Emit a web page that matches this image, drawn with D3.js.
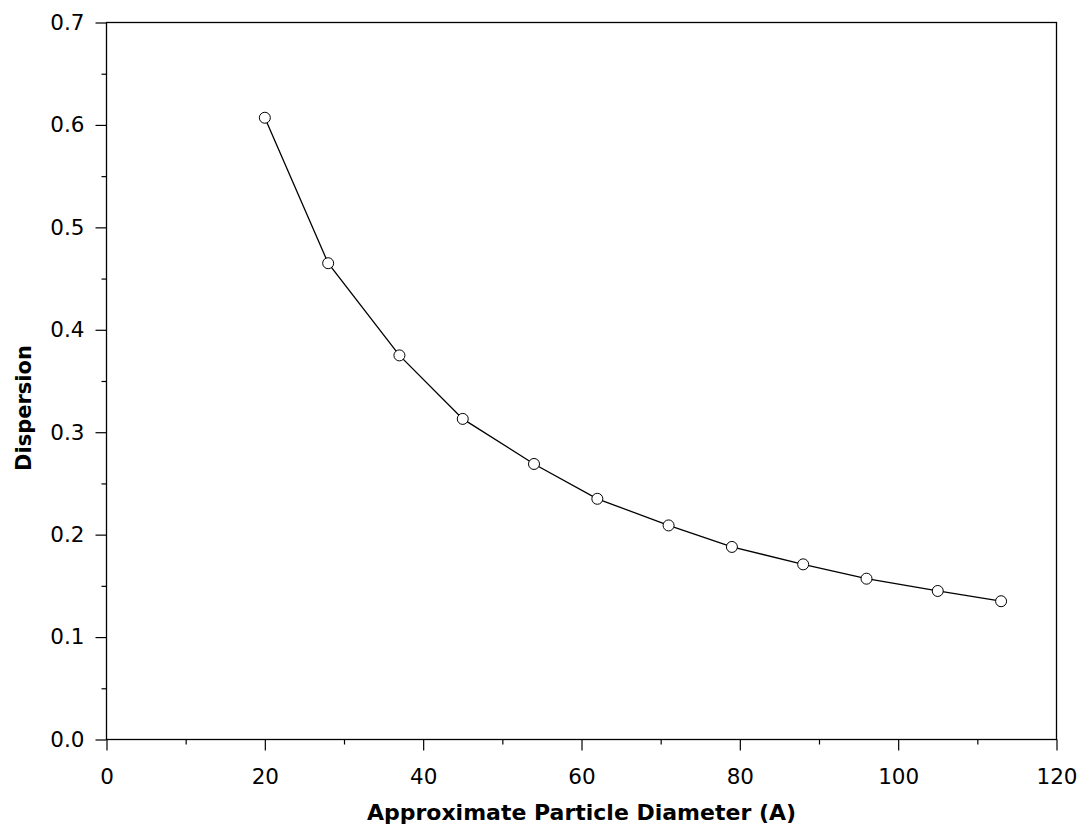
<!DOCTYPE html>
<html><head><meta charset="utf-8">
<script src="https://cdn.jsdelivr.net/npm/d3@7"></script>
<style>body{margin:0;background:#fff}svg{display:block}text{font-family:"DejaVu Sans",Verdana,sans-serif}</style>
</head><body><svg id="c" width="1080" height="827"></svg>
<script>
const diameters = [20, 28, 37, 45, 54, 62, 71, 79, 88, 96, 105, 113];
const dispersion = [0.607, 0.465, 0.375, 0.313, 0.269, 0.235, 0.209, 0.188, 0.171, 0.157, 0.145, 0.135];
const xTicks = [0, 20, 40, 60, 80, 100, 120];
const yTicks = [0, 0.1, 0.2, 0.3, 0.4, 0.5, 0.6, 0.7];
const xTitle = "Approximate Particle Diameter (A)";
const yTitle = "Dispersion";

const svg = d3.select("#c");
const L = 106.5, R = 1056.5, T = 22.5, B = 739.5;
const x = d3.scaleLinear().domain([0, 120]).range([L, R]);
const y = d3.scaleLinear().domain([0, 0.7]).range([B, T]);

// frame
svg.append("rect").attr("x", L).attr("y", T).attr("width", R - L).attr("height", B - T)
  .attr("fill", "none").attr("stroke", "#000").attr("stroke-width", 1.3);

// x axis
const xMinor = d3.range(10, 120, 20);
const gx = svg.append("g").attr("transform", `translate(0,${B})`)
  .call(d3.axisBottom(x).tickValues(xTicks).tickSize(11).tickPadding(18).tickFormat(d3.format("d")));
gx.select(".domain").remove();
gx.selectAll("text").attr("font-size", 21.5).attr("fill", "#000").attr("font-family", '"DejaVu Sans",sans-serif');
gx.selectAll("line").attr("stroke-width", 1.2);
svg.append("g").attr("transform", `translate(0,${B})`)
  .call(d3.axisBottom(x).tickValues(xMinor).tickSize(5).tickFormat(""))
  .call(g => g.select(".domain").remove())
  .selectAll("line").attr("stroke-width", 1.2);

// y axis
const yMinor = d3.range(0.05, 0.7, 0.1);
const gy = svg.append("g").attr("transform", `translate(${L},0)`)
  .call(d3.axisLeft(y).tickValues(yTicks).tickSize(11).tickPadding(11).tickFormat(d3.format(".1f")));
gy.select(".domain").remove();
gy.selectAll("text").attr("font-size", 21.5).attr("fill", "#000").attr("font-family", '"DejaVu Sans",sans-serif');
gy.selectAll("line").attr("stroke-width", 1.2);
svg.append("g").attr("transform", `translate(${L},0)`)
  .call(d3.axisLeft(y).tickValues(yMinor).tickSize(5).tickFormat(""))
  .call(g => g.select(".domain").remove())
  .selectAll("line").attr("stroke-width", 1.2);

// titles
svg.append("text").attr("x", (L + R) / 2).attr("y", 820).attr("text-anchor", "middle")
  .attr("font-size", 22).attr("font-weight", "bold").text(xTitle);
svg.append("text").attr("transform", `translate(31,408) rotate(-90)`).attr("text-anchor", "middle")
  .attr("font-size", 21).attr("font-weight", "bold").text(yTitle);

// line and points
const data = diameters.map((d, i) => [d, dispersion[i]]);
svg.append("path").datum(data).attr("fill", "none").attr("stroke", "#000").attr("stroke-width", 1.3)
  .attr("d", d3.line().x(d => x(d[0])).y(d => y(d[1])));
svg.append("g").selectAll("circle").data(data).join("circle")
  .attr("cx", d => x(d[0])).attr("cy", d => y(d[1])).attr("r", 5.5)
  .attr("fill", "#fff").attr("stroke", "#000").attr("stroke-width", 1);
</script></body></html>
